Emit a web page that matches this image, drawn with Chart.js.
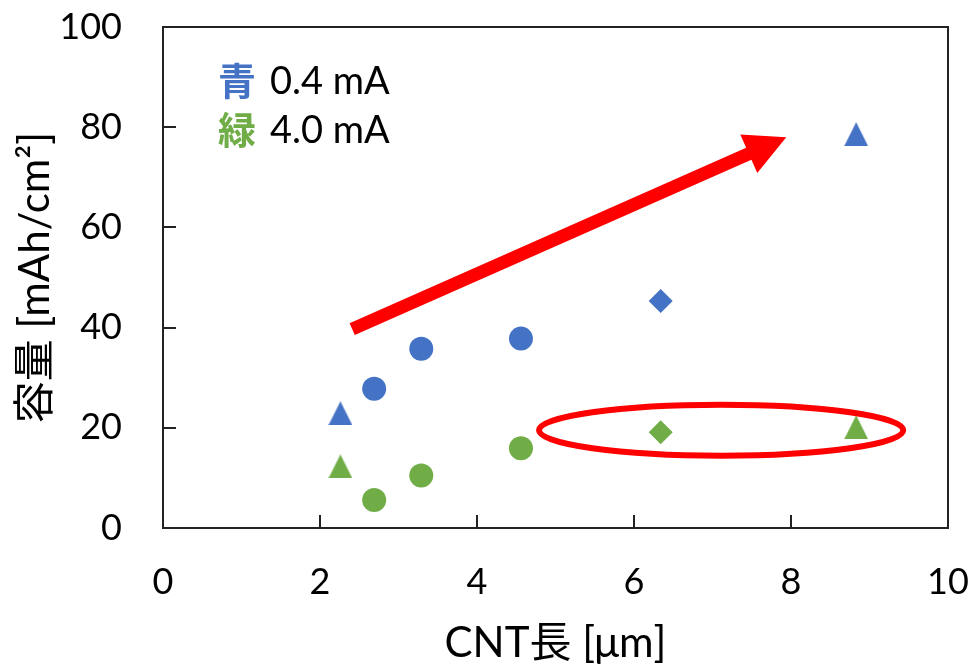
<!DOCTYPE html>
<html><head><meta charset="utf-8">
<script src="https://cdn.jsdelivr.net/npm/chart.js@4/dist/chart.umd.min.js"></script>
<style>html,body{margin:0;padding:0;background:#fff}</style>
</head><body>
<canvas id="c" width="973" height="669"></canvas>
<script>
// ---- data ----
const xTicks = [0, 2, 4, 6, 8, 10];
const yTicks = [0, 20, 40, 60, 80, 100];
const cntLength = [2.26, 2.69, 3.29, 4.56, 6.34, 8.83];
const capBlue = [22.9, 27.8, 35.8, 37.8, 45.3, 78.6];
const capGreen = [12.3, 5.6, 10.5, 15.9, 19.1, 20.1];
const markerKinds = ['triangle', 'circle', 'circle', 'circle', 'diamond', 'triangle'];
const seriesKanji = ['青', '緑'];
const seriesLabels = ['0.4 mA', '4.0 mA'];
const xTitle = 'CNT長 [μm]';
const yTitle = '容量 [mAh/cm²]';
// annotation anchors (data units)
const arrowFrom = [2.41, 39.7];
const arrowTo = [7.94, 78.0];
const ellipseCenter = [7.11, 19.5];
const ellipseRadii = [2.32, 5.08];

const BLUE = '#4472C4', GREEN = '#70AD47', RED = '#FF0000';
const FONT = "Lato, 'Noto Sans CJK JP', sans-serif";

function triImg(color) {
  const c = document.createElement('canvas');
  c.width = 24; c.height = 24;
  const g = c.getContext('2d');
  g.fillStyle = color;
  g.beginPath(); g.moveTo(12, 0); g.lineTo(24, 24); g.lineTo(0, 24); g.closePath(); g.fill();
  return c;
}
function styles(color) {
  return markerKinds.map(k => k === 'triangle' ? triImg(color) : (k === 'diamond' ? 'rectRot' : 'circle'));
}
function pts(ys) { return cntLength.map((x, i) => ({x: x, y: ys[i]})); }
function noPad(s) { s.paddingTop = 0; s.paddingBottom = 0; s.paddingLeft = 0; s.paddingRight = 0; }

const frame = {
  id: 'frame',
  beforeDatasetsDraw(chart) {
    const {ctx, chartArea: a, scales: {x, y}} = chart;
    ctx.save();
    ctx.strokeStyle = '#222'; ctx.lineWidth = 2;
    ctx.strokeRect(a.left, a.top, a.right - a.left, a.bottom - a.top);
    ctx.beginPath();
    xTicks.forEach(v => { const p = Math.round(x.getPixelForValue(v)); ctx.moveTo(p, a.bottom); ctx.lineTo(p, a.bottom - 13); });
    yTicks.forEach(v => { const p = Math.round(y.getPixelForValue(v)); ctx.moveTo(a.left, p); ctx.lineTo(a.left + 13, p); });
    ctx.stroke();
    ctx.restore();
  },
  afterDatasetsDraw(chart) {
    const {ctx, chartArea: a, scales: {x, y}} = chart;
    ctx.save();
    // arrow
    const x0 = x.getPixelForValue(arrowFrom[0]), y0 = y.getPixelForValue(arrowFrom[1]);
    const x1 = x.getPixelForValue(arrowTo[0]), y1 = y.getPixelForValue(arrowTo[1]);
    const dx = x1 - x0, dy = y1 - y0, L = Math.hypot(dx, dy);
    const ux = dx / L, uy = dy / L, nx = -uy, ny = ux;
    const headLen = 41, headW = 21, shaftW = 6.5;
    const bx = x1 - ux * headLen, by = y1 - uy * headLen;
    ctx.fillStyle = RED;
    ctx.beginPath();
    ctx.moveTo(x0 + nx * shaftW, y0 + ny * shaftW);
    ctx.lineTo(bx + nx * shaftW, by + ny * shaftW);
    ctx.lineTo(bx + nx * headW, by + ny * headW);
    ctx.lineTo(x1, y1);
    ctx.lineTo(bx - nx * headW, by - ny * headW);
    ctx.lineTo(bx - nx * shaftW, by - ny * shaftW);
    ctx.lineTo(x0 - nx * shaftW, y0 - ny * shaftW);
    ctx.closePath(); ctx.fill();
    // ellipse
    const cx = x.getPixelForValue(ellipseCenter[0]), cy = y.getPixelForValue(ellipseCenter[1]);
    const rx = x.getPixelForValue(ellipseCenter[0] + ellipseRadii[0]) - cx;
    const ry = cy - y.getPixelForValue(ellipseCenter[1] + ellipseRadii[1]);
    ctx.strokeStyle = RED; ctx.lineWidth = 6;
    ctx.beginPath(); ctx.ellipse(cx, cy, rx, ry, 0, 0, Math.PI * 2); ctx.stroke();
    // legend text
    const colors = [BLUE, GREEN];
    ctx.textBaseline = 'middle';
    seriesKanji.forEach((k, i) => {
      const ty = a.top + 54 + i * 49;
      ctx.fillStyle = colors[i];
      ctx.font = "bold 38px 'Noto Sans CJK JP'";
      ctx.fillText(k, a.left + 55, ty);
      ctx.fillStyle = '#000';
      ctx.font = '38px ' + FONT;
      ctx.fillText(seriesLabels[i], a.left + 107, ty + 1);
    });
    ctx.restore();
  }
};

new Chart(document.getElementById('c'), {
  type: 'scatter',
  data: {
    datasets: [
      {label: seriesLabels[0], data: pts(capBlue), backgroundColor: BLUE, borderColor: BLUE,
       pointStyle: styles(BLUE), pointRadius: 12, pointHoverRadius: 12, pointBorderWidth: 0},
      {label: seriesLabels[1], data: pts(capGreen), backgroundColor: GREEN, borderColor: GREEN,
       pointStyle: styles(GREEN), pointRadius: 12, pointHoverRadius: 12, pointBorderWidth: 0}
    ]
  },
  options: {
    responsive: false,
    animation: false,
    layout: {padding: {top: 27, right: 25, left: 0, bottom: 0}},
    plugins: {legend: {display: false}, tooltip: {enabled: false}},
    scales: {
      x: {
        type: 'linear', min: 0, max: 10,
        afterBuildTicks(s) { s.ticks = xTicks.map(v => ({value: v})); },
        afterFit(s) { s.height = 141; noPad(s); },
        grid: {display: false, drawTicks: false},
        border: {display: false},
        ticks: {font: {family: FONT, size: 36}, color: '#000', padding: 33, maxRotation: 0},
        title: {display: true, text: xTitle, color: '#000', font: {family: FONT, size: 42}, padding: {top: 0, bottom: 0}}
      },
      y: {
        type: 'linear', min: 0, max: 100,
        afterBuildTicks(s) { s.ticks = yTicks.map(v => ({value: v})); },
        afterFit(s) { s.width = 163; noPad(s); },
        grid: {display: false, drawTicks: false},
        border: {display: false},
        ticks: {font: {family: FONT, size: 36}, color: '#000', padding: 41},
        title: {display: true, text: yTitle, color: '#000', font: {family: FONT, size: 42}, padding: {top: 10, bottom: 0}}
      }
    }
  },
  plugins: [frame]
});
</script>
</body></html>
